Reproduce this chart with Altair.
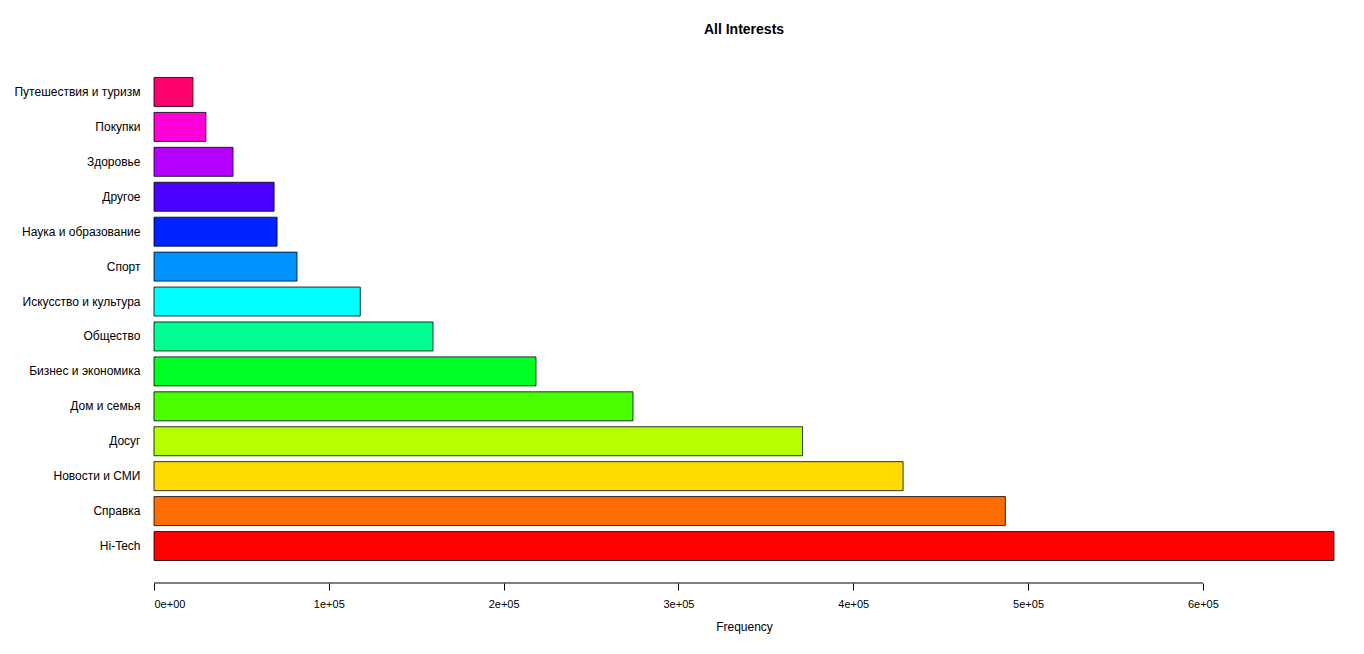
import altair as alt
import pandas as pd

categories = ["Hi-Tech", "Справка", "Новости и СМИ", "Досуг", "Дом и семья",
              "Бизнес и экономика", "Общество", "Искусство и культура", "Спорт",
              "Наука и образование", "Другое", "Здоровье", "Покупки",
              "Путешествия и туризм"]
values = [675000, 487000, 428500, 371000, 274000, 218500, 159600, 118000,
          81800, 70400, 68700, 45200, 29700, 22300]
colors = ["#FF0000", "#FF6D00", "#FFDB00", "#B6FF00", "#49FF00", "#00FF24",
          "#00FF92", "#00FFFF", "#0092FF", "#0024FF", "#4900FF", "#B600FF",
          "#FF00DB", "#FF006D"]

df = pd.DataFrame({"cat": categories, "freq": values, "col": colors})
order = categories[::-1]
FONT = "Liberation Sans"
W, H = 1180, 490

bars = alt.Chart(df).mark_bar(stroke="black", strokeWidth=0.8).encode(
    y=alt.Y("cat:N", sort=order, title=None,
            scale=alt.Scale(paddingInner=0.17, paddingOuter=0.1),
            axis=alt.Axis(domain=False, ticks=False, labelPadding=14,
                          labelFontSize=12, labelFont=FONT, labelColor="black")),
    x=alt.X("freq:Q", title="Frequency",
            scale=alt.Scale(domain=[0, 675000], nice=False),
            axis=alt.Axis(values=[0, 100000, 200000, 300000, 400000, 500000, 600000],
                          labelExpr="datum.value == 0 ? '0e+00' : (datum.value/100000) + 'e+05'",
                          domain=False, grid=False, offset=19, tickColor="black",
                          tickSize=7, labelFontSize=11, labelFont=FONT,
                          labelColor="black", labelPadding=8, titleFont=FONT,
                          titleFontSize=12, titleFontWeight="normal",
                          titlePadding=12, titleColor="black")),
    color=alt.Color("col:N", scale=None),
)

axis_line = alt.Chart(pd.DataFrame({"a": [0], "b": [600000]})).mark_rule(
    color="black").encode(
    x=alt.X("a:Q"), x2="b:Q", y=alt.value(H + 19))

chart = (bars + axis_line).properties(
    width=W, height=H,
    padding={"top": 15, "left": 5, "right": 5, "bottom": 5},
    title=alt.TitleParams("All Interests", font=FONT, fontSize=14,
                          fontWeight="bold", offset=37, color="black"),
).configure_view(stroke=None)

chart.save("out.html", embed_options={"renderer": "svg", "actions": False})
